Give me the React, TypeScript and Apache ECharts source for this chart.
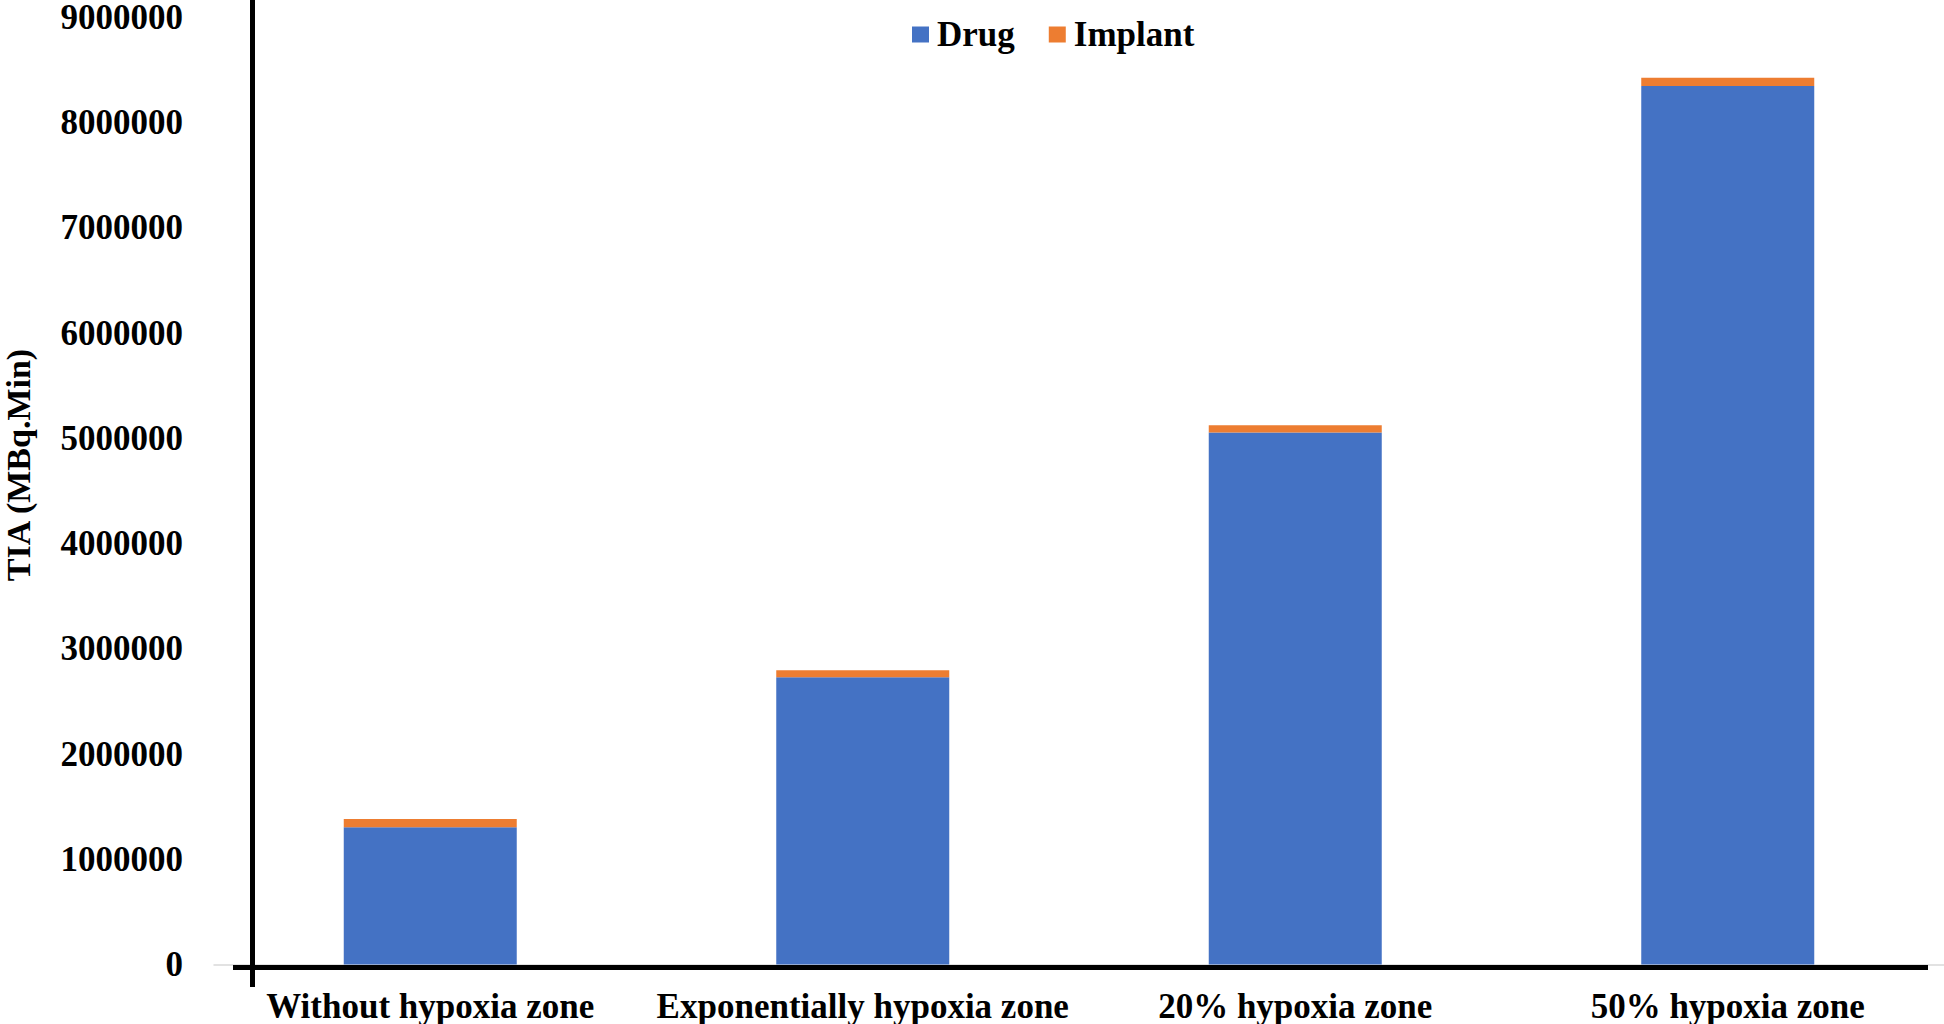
import React, { useEffect, useRef } from "react";
import * as echarts from "echarts";

const categories = [
  "Without hypoxia zone",
  "Exponentially hypoxia zone",
  "20% hypoxia zone",
  "50% hypoxia zone",
];
const drugValues = [1305000, 2730000, 5055000, 8350000];
const implantValues = [77000, 66000, 70000, 77000];
const yTickMin = 0;
const yTickMax = 9000000;
const yTickStep = 1000000;

const FONT = "'Liberation Serif', 'Times New Roman', serif";

export default function App() {
  const ref = useRef<HTMLDivElement>(null);
  useEffect(() => {
    if (!ref.current) return;
    const chart = echarts.init(ref.current, undefined, { renderer: "svg" });
    chart.setOption({
      animation: false,
      backgroundColor: "#ffffff",
      textStyle: { fontFamily: FONT },
      legend: {
        left: 907,
        top: 12,
        itemWidth: 17,
        itemHeight: 16,
        itemGap: 34,
        icon: "rect",
        textStyle: {
          fontFamily: FONT,
          fontSize: 35,
          fontWeight: "bold",
          color: "#000",
          padding: [0, 0, 0, 3],
        },
        data: ["Drug", "Implant"],
      },
      grid: { left: 214, right: 0, top: 15, bottom: 59.5 },
      xAxis: {
        type: "category",
        data: categories,
        axisLine: { show: true, lineStyle: { color: "#D9D9D9", width: 1.5 } },
        axisTick: { show: false },
        axisLabel: {
          fontFamily: FONT,
          fontSize: 35,
          fontWeight: "bold",
          color: "#000",
          margin: 24,
          interval: 0,
        },
      },
      yAxis: {
        type: "value",
        min: yTickMin,
        max: yTickMax,
        interval: yTickStep,
        axisLine: { show: false },
        axisTick: { show: false },
        splitLine: { show: false },
        axisLabel: {
          fontFamily: FONT,
          fontSize: 35,
          lineHeight: 28,
          fontWeight: "bold",
          color: "#000",
          margin: 31,
          formatter: (v: number) => String(v),
        },
      },
      graphic: [
        {
          type: "line",
          shape: { x1: 252.5, y1: 0, x2: 252.5, y2: 987 },
          style: { stroke: "#000", lineWidth: 5 },
          z: 100,
        },
        {
          type: "line",
          shape: { x1: 233, y1: 967.5, x2: 1928, y2: 967.5 },
          style: { stroke: "#000", lineWidth: 5 },
          z: 100,
        },
        {
          type: "text",
          x: 18,
          y: 465,
          rotation: Math.PI / 2,
          style: {
            text: "TIA (MBq.Min)",
            font: `bold 34px ${FONT}`,
            fill: "#000",
            align: "center",
            verticalAlign: "middle",
          },
        },
      ],
      series: [
        {
          name: "Drug",
          type: "bar",
          stack: "total",
          barWidth: "40%",
          itemStyle: { color: "#4472C4" },
          data: drugValues,
        },
        {
          name: "Implant",
          type: "bar",
          stack: "total",
          barWidth: "40%",
          itemStyle: { color: "#ED7D31" },
          data: implantValues,
        },
      ],
    });
    return () => chart.dispose();
  }, []);
  return (
    <div
      ref={ref}
      style={{ position: "fixed", left: 0, top: 0, width: 1944, height: 1024 }}
    />
  );
}
